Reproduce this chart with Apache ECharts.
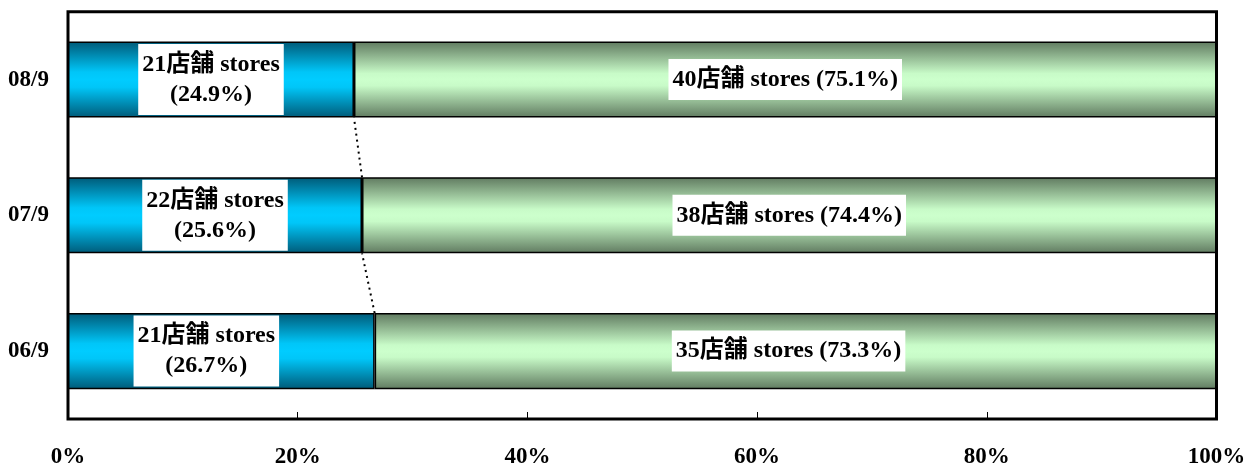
<!DOCTYPE html>
<html>
<head>
<meta charset="utf-8">
<script src="https://cdn.jsdelivr.net/npm/echarts@6/dist/echarts.min.js"></script>
<style>
html,body{margin:0;padding:0;background:#fff;}
#chart{width:1256px;height:469px;}
</style>
</head>
<body>
<div id="chart"></div>
<script>
// ---- data ----
var categories = ['06/9', '07/9', '08/9'];
var blueStores = [21, 22, 21];
var blueShare = [26.7, 25.6, 24.9];
var greenStores = [35, 38, 40];
var greenShare = [73.3, 74.4, 75.1];
var xTicks = [0, 20, 40, 60, 80, 100];

// ---- style ----
var FONT = '"Liberation Serif", "Times New Roman", "Noto Sans CJK JP", serif';
var BAR_FRAC = 0.56;
var blueLabelShift = [-15, 0, 0];
var greenLabelShift = [-7, 0, 0];

var chart = echarts.init(document.getElementById('chart'), null, {renderer: 'canvas'});

var blueGrad = new echarts.graphic.LinearGradient(0, 0, 0, 1, [
  {offset: 0, color: '#005a78'},
  {offset: 0.4, color: '#00c6f8'},
  {offset: 0.5, color: '#00ccff'},
  {offset: 0.6, color: '#00c6f8'},
  {offset: 1, color: '#005a78'}
]);
var greenGrad = new echarts.graphic.LinearGradient(0, 0, 0, 1, [
  {offset: 0, color: '#607a60'},
  {offset: 0.42, color: '#c8fbc8'},
  {offset: 0.5, color: '#ccffcc'},
  {offset: 0.58, color: '#c8fbc8'},
  {offset: 1, color: '#607a60'}
]);

var labelBase = {
  show: true,
  position: 'inside',
  color: '#000',
  fontFamily: FONT,
  fontWeight: 'bold',
  fontSize: 24,
  lineHeight: 30,
  backgroundColor: '#fff',
  padding: [5.5, 4, 5.5, 4]
};

var blueData = blueShare.map(function (v, i) {
  return {value: v, label: {offset: [blueLabelShift[i], 0]}};
});
var greenData = greenShare.map(function (v, i) {
  return {value: v, label: {offset: [greenLabelShift[i], 0]}};
});

var pairs = [];
for (var i = 0; i < categories.length - 1; i++) {
  pairs.push([blueShare[i], i, blueShare[i + 1], i + 1]);
}

var option = {
  animation: false,
  backgroundColor: '#fff',
  grid: {
    left: 68, right: 39.5, top: 11.7, bottom: 49.5,
    show: true, borderColor: '#000', borderWidth: 3, backgroundColor: 'transparent'
  },
  xAxis: {
    type: 'value', min: 0, max: 100, interval: 20,
    axisLine: {show: false},
    axisTick: {show: true, inside: true, length: 7, lineStyle: {color: '#000', width: 1}},
    splitLine: {show: false},
    axisLabel: {
      margin: 27,
      color: '#000', fontFamily: FONT, fontWeight: 'bold', fontSize: 23,
      formatter: function (v) { return xTicks.indexOf(v) >= 0 ? v + '%' : ''; }
    }
  },
  yAxis: {
    type: 'category', data: categories,
    axisLine: {show: false},
    axisTick: {show: false},
    axisLabel: {margin: 19, color: '#000', fontFamily: FONT, fontWeight: 'bold', fontSize: 23}
  },
  series: [
    {
      type: 'bar', stack: 'total', barCategoryGap: '44%',
      data: blueData,
      itemStyle: {color: blueGrad, borderColor: '#000', borderWidth: 1.5},
      label: Object.assign({}, labelBase, {
        formatter: function (p) {
          return blueStores[p.dataIndex] + '店舗 stores\n(' + blueShare[p.dataIndex].toFixed(1) + '%)';
        }
      }),
      z: 2
    },
    {
      type: 'bar', stack: 'total', barCategoryGap: '44%',
      data: greenData,
      itemStyle: {color: greenGrad, borderColor: '#000', borderWidth: 1.5},
      label: Object.assign({}, labelBase, {
        formatter: function (p) {
          return greenStores[p.dataIndex] + '店舗 stores (' + greenShare[p.dataIndex].toFixed(1) + '%)';
        }
      }),
      z: 2
    },
    {
      type: 'custom',
      data: pairs,
      encode: {x: [0, 2], y: [1, 3]},
      z: 5,
      silent: true,
      renderItem: function (params, api) {
        var p0 = api.coord([api.value(0), api.value(1)]);
        var p1 = api.coord([api.value(2), api.value(3)]);
        var band = api.size([0, 1])[1];
        var half = band * BAR_FRAC / 2;
        return {
          type: 'line',
          shape: {x1: p0[0], y1: p0[1] - half, x2: p1[0], y2: p1[1] + half},
          style: {stroke: '#000', lineWidth: 2, lineDash: [2, 4]}
        };
      }
    }
  ]
};
chart.setOption(option);
</script>
</body>
</html>
